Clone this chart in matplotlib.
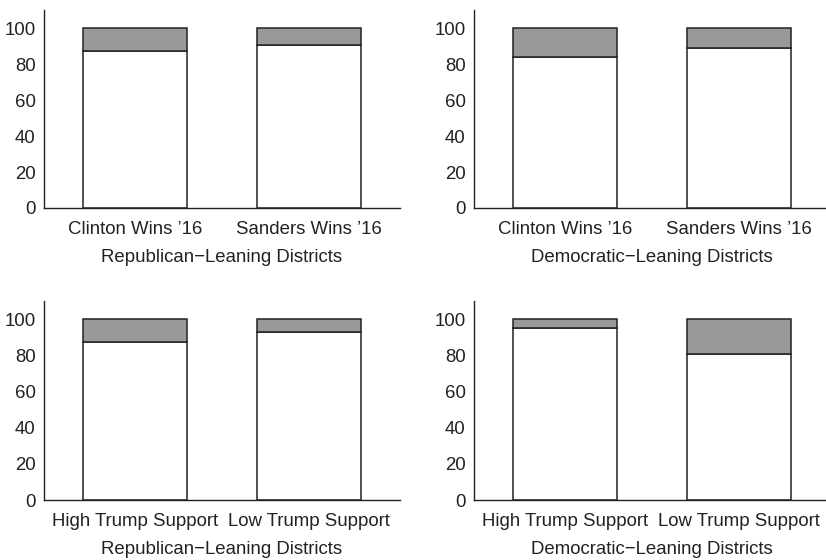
import numpy as np
import matplotlib.pyplot as plt

plt.rcParams['font.family'] = ['Liberation Sans', 'DejaVu Sans']

# share (%) of the lower segment; the gray segment fills up to 100
clinton_sanders = ["Clinton Wins \u201916", "Sanders Wins \u201916"]
trump_support = ["High Trump Support", "Low Trump Support"]

rep_primary = [87.1, 90.8]
dem_primary = [84.0, 89.0]
rep_trump = [87.4, 92.8]
dem_trump = [94.9, 80.7]

rep_title = "Republican\u2212Leaning Districts"
dem_title = "Democratic\u2212Leaning Districts"

panels = [
    (clinton_sanders, rep_primary, rep_title, [0.0533, 0.6286, 0.431, 0.3534]),
    (clinton_sanders, dem_primary, dem_title, [0.5738, 0.6286, 0.431, 0.3534]),
    (trump_support, rep_trump, rep_title, [0.0533, 0.1071, 0.431, 0.3554]),
    (trump_support, dem_trump, dem_title, [0.5738, 0.1071, 0.431, 0.3554]),
]

fig = plt.figure(figsize=(8.26, 5.6), dpi=100)
edge = '#222222'
fs = 13.4

for cats, vals, xlab, rect in panels:
    ax = fig.add_axes(rect)
    x = np.arange(len(cats))
    vals = np.array(vals)
    ax.bar(x, vals, width=0.6, color='white', edgecolor=edge, linewidth=1.1)
    ax.bar(x, 100 - vals, bottom=vals, width=0.6, color='#999999',
           edgecolor=edge, linewidth=1.1)
    ax.set_xlim(-0.526, 1.526)
    ax.set_ylim(0, 110)
    ax.set_yticks([0, 20, 40, 60, 80, 100])
    ax.set_xticks(x)
    ax.set_xticklabels(cats)
    ax.tick_params(axis='both', length=0, labelsize=fs, colors='#222222')
    ax.tick_params(axis='y', pad=6)
    ax.tick_params(axis='x', pad=9.7)
    ax.set_xlabel(xlab, fontsize=fs, color='#222222', labelpad=7.8)
    for s in ['top', 'right']:
        ax.spines[s].set_visible(False)
    for s in ['left', 'bottom']:
        ax.spines[s].set_color(edge)
        ax.spines[s].set_linewidth(1.0)

fig.savefig('out.png', dpi=100)
